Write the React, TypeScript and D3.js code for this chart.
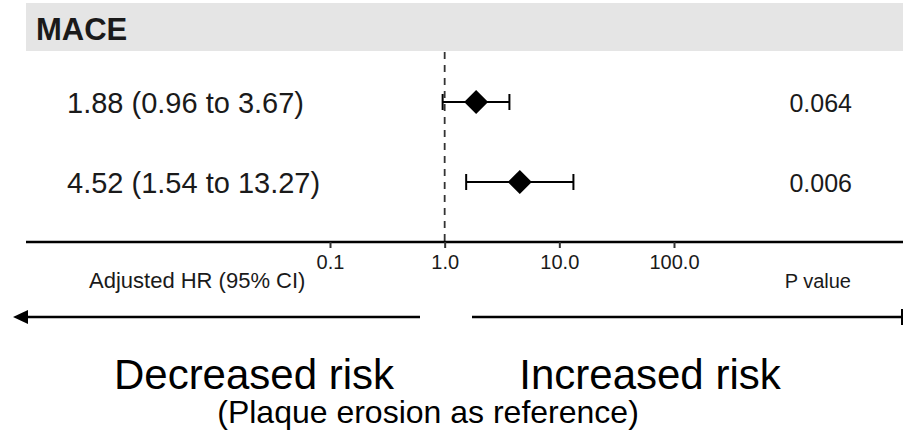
import { useEffect, useRef } from "react";
import * as d3 from "d3";

// data
const rows = ["row1", "row2"];
const hrLabels = ["1.88 (0.96 to 3.67)", "4.52 (1.54 to 13.27)"];
const hr = [1.88, 4.52];
const ciLow = [0.96, 1.54];
const ciHigh = [3.67, 13.27];
const pValues = ["0.064", "0.006"];
const tickValues = [0.1, 1, 10, 100];

const W = 903;
const H = 435;
const FONT = "'Liberation Sans', Arial, sans-serif";

export default function App() {
  const ref = useRef<SVGSVGElement>(null);

  useEffect(() => {
    if (!ref.current) return;
    const svg = d3.select(ref.current);
    svg.selectAll("*").remove();

    // scales
    const x = d3.scaleLog().domain([0.1, 100]).range([330, 674]);
    const y = d3.scalePoint().domain(rows).range([102, 182]);
    const axisY = 242;

    // header band
    svg.append("rect")
      .attr("x", 26).attr("y", 3)
      .attr("width", W - 26).attr("height", 48)
      .attr("fill", "#e5e5e5");
    svg.append("text")
      .attr("x", 36).attr("y", 40)
      .attr("font-family", FONT)
      .attr("font-weight", "bold")
      .attr("font-size", 31)
      .attr("fill", "#1a1a1a")
      .text("MACE");

    // reference line at HR = 1
    svg.append("line")
      .attr("x1", x(1)).attr("x2", x(1))
      .attr("y1", 52).attr("y2", axisY)
      .attr("stroke", "#333")
      .attr("stroke-width", 1.8)
      .attr("stroke-dasharray", "7,6");

    // left labels
    svg.selectAll("text.hr")
      .data(rows)
      .join("text")
      .attr("class", "hr")
      .attr("x", 67)
      .attr("y", (d) => (y(d) as number) + 11)
      .attr("font-family", FONT)
      .attr("font-size", 29)
      .attr("fill", "#1a1a1a")
      .text((d, i) => hrLabels[i]);

    // p values
    svg.selectAll("text.p")
      .data(rows)
      .join("text")
      .attr("class", "p")
      .attr("x", 852)
      .attr("y", (d) => (y(d) as number) + 10)
      .attr("text-anchor", "end")
      .attr("font-family", FONT)
      .attr("font-size", 25)
      .attr("fill", "#1a1a1a")
      .text((d, i) => pValues[i]);

    // CI whiskers
    const ci = svg.append("g").attr("stroke", "#000").attr("stroke-width", 2);
    rows.forEach((r, i) => {
      const cy = y(r) as number;
      ci.append("line")
        .attr("x1", x(ciLow[i])).attr("x2", x(ciHigh[i]))
        .attr("y1", cy).attr("y2", cy);
      [ciLow[i], ciHigh[i]].forEach((v) => {
        ci.append("line")
          .attr("x1", x(v)).attr("x2", x(v))
          .attr("y1", cy - 8).attr("y2", cy + 8);
      });
    });

    // diamonds
    const s = 12;
    svg.selectAll("path.pt")
      .data(rows)
      .join("path")
      .attr("class", "pt")
      .attr("d", (d, i) => {
        const cx = x(hr[i]);
        const cy = y(d) as number;
        return `M${cx},${cy - s}L${cx + s},${cy}L${cx},${cy + s}L${cx - s},${cy}Z`;
      })
      .attr("fill", "#000");

    // axis
    svg.append("line")
      .attr("x1", 26).attr("x2", W)
      .attr("y1", axisY).attr("y2", axisY)
      .attr("stroke", "#000")
      .attr("stroke-width", 2.6);
    const axis = svg.append("g")
      .attr("transform", `translate(0,${axisY})`)
      .call(
        d3.axisBottom(x)
          .tickValues(tickValues)
          .tickSize(6)
          .tickFormat((d) => d3.format(".1f")(d as number))
      );
    axis.select(".domain").remove();
    axis.selectAll("line").attr("stroke", "#333").attr("stroke-width", 2);
    axis.selectAll("text")
      .attr("y", 27)
      .attr("dy", 0)
      .attr("font-family", FONT)
      .attr("font-size", 20)
      .attr("fill", "#1a1a1a");

    // axis captions
    svg.append("text")
      .attr("x", 89).attr("y", 288)
      .attr("font-family", FONT).attr("font-size", 22)
      .attr("fill", "#1a1a1a")
      .text("Adjusted HR (95% CI)");
    svg.append("text")
      .attr("x", 851).attr("y", 288)
      .attr("text-anchor", "end")
      .attr("font-family", FONT).attr("font-size", 20)
      .attr("fill", "#1a1a1a")
      .text("P value");

    // risk arrows
    const ay = 317;
    svg.append("line")
      .attr("x1", 26).attr("x2", 420)
      .attr("y1", ay).attr("y2", ay)
      .attr("stroke", "#000").attr("stroke-width", 2.6);
    svg.append("path")
      .attr("d", `M13,${ay}L28,${ay - 7}L28,${ay + 7}Z`)
      .attr("fill", "#000");
    svg.append("line")
      .attr("x1", 472).attr("x2", 902)
      .attr("y1", ay).attr("y2", ay)
      .attr("stroke", "#000").attr("stroke-width", 2.6);
    svg.append("line")
      .attr("x1", 902).attr("x2", 902)
      .attr("y1", ay - 8).attr("y2", ay + 8)
      .attr("stroke", "#000").attr("stroke-width", 2);

    svg.append("text")
      .attr("x", 254).attr("y", 389)
      .attr("text-anchor", "middle")
      .attr("font-family", FONT).attr("font-size", 42)
      .attr("fill", "#000")
      .text("Decreased risk");
    svg.append("text")
      .attr("x", 650).attr("y", 389)
      .attr("text-anchor", "middle")
      .attr("font-family", FONT).attr("font-size", 42)
      .attr("fill", "#000")
      .text("Increased risk");
    svg.append("text")
      .attr("x", 428).attr("y", 423)
      .attr("text-anchor", "middle")
      .attr("font-family", FONT).attr("font-size", 32)
      .attr("fill", "#000")
      .text("(Plaque erosion as reference)");
  }, []);

  return (
    <svg
      ref={ref}
      width={W}
      height={H}
      style={{ position: "absolute", left: 0, top: 0, background: "#fff" }}
    />
  );
}
